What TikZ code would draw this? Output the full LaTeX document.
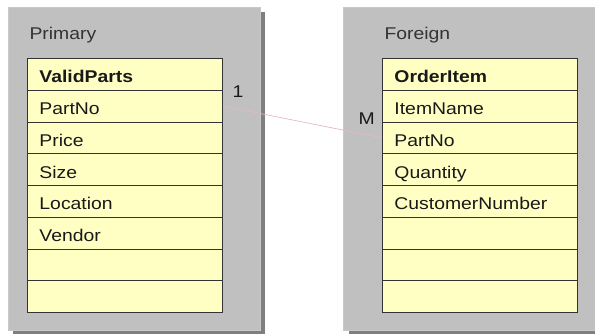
\documentclass[tikz,border=0pt]{standalone}
\usepackage{fontspec}
\setmainfont{Liberation Sans}[FakeStretch=1.14]
\usetikzlibrary{positioning}
\definecolor{panelGrey}{HTML}{C0C0C0}
\definecolor{shadowGrey}{HTML}{7F7F7F}
\definecolor{rowYellow}{HTML}{FFFFC4}
\definecolor{linkPink}{HTML}{E3B9C0}
\tikzset{
    panel/.style={fill=panelGrey, draw=panelGrey!85!white, line width=0.6pt},
    panel shadow/.style={fill=shadowGrey},
    row/.style={draw=black!80, fill=rowYellow, line width=0.9pt, anchor=north west,
        minimum height=31.75pt, text width=171pt, inner xsep=12pt, inner ysep=0pt,
        text height=17pt, text depth=0pt,
        align=left, font=\fontsize{17}{19}\selectfont, text=black!90},
    caption/.style={anchor=west, font=\fontsize{17}{19}\selectfont, text=black!80}
}

\begin{document}
\begin{tikzpicture}[x=1pt, y=-1pt]
    \useasboundingbox (0,0) rectangle (595,335);

    % Globals
    \pgfmathsetmacro{\rowH}{31.75}
    \pgfmathsetmacro{\tabTop}{58}

    % Primary panel
    \fill[panel shadow] (13,12) rectangle (265,334);
    \draw[panel] (8,7) rectangle (260,330);
    \node[caption] (primLabel) at (26,35) {Primary};

    % Foreign panel
    \fill[panel shadow] (349,12) rectangle (600,334);
    \draw[panel] (343,7) rectangle (600,330);
    \node[caption] (foreLabel) at (381,35) {Foreign};

    % Primary table
    \pgfmathsetmacro{\x}{27}
    \node[row] (pHead) at (\x,\tabTop) {\textbf{ValidParts}};
    \node[row] (pPartNo) at (\x,\tabTop+\rowH) {PartNo};
    \node[row] (pPrice) at (\x,\tabTop+2*\rowH) {Price};
    \node[row] (pSize) at (\x,\tabTop+3*\rowH) {Size};
    \node[row] (pLocation) at (\x,\tabTop+4*\rowH) {Location};
    \node[row] (pVendor) at (\x,\tabTop+5*\rowH) {Vendor};
    \node[row] (pEmptyA) at (\x,\tabTop+6*\rowH) {};
    \node[row] (pEmptyB) at (\x,\tabTop+7*\rowH) {};

    % Foreign table
    \pgfmathsetmacro{\x}{382}
    \node[row] (fHead) at (\x,\tabTop) {\textbf{OrderItem}};
    \node[row] (fItemName) at (\x,\tabTop+\rowH) {ItemName};
    \node[row] (fPartNo) at (\x,\tabTop+2*\rowH) {PartNo};
    \node[row] (fQuantity) at (\x,\tabTop+3*\rowH) {Quantity};
    \node[row] (fCustomer) at (\x,\tabTop+4*\rowH) {CustomerNumber};
    \node[row] (fEmptyA) at (\x,\tabTop+5*\rowH) {};
    \node[row] (fEmptyB) at (\x,\tabTop+6*\rowH) {};
    \node[row] (fEmptyC) at (\x,\tabTop+7*\rowH) {};

    % Link
    \draw[linkPink, line width=0.7pt] (pPartNo.east) -- (fPartNo.west);
    \node[caption, text=black!90] (oneLabel) at (229,92) {1};
    \node[caption, text=black!90] (manyLabel) at (355,119) {M};

\end{tikzpicture}
\end{document}
